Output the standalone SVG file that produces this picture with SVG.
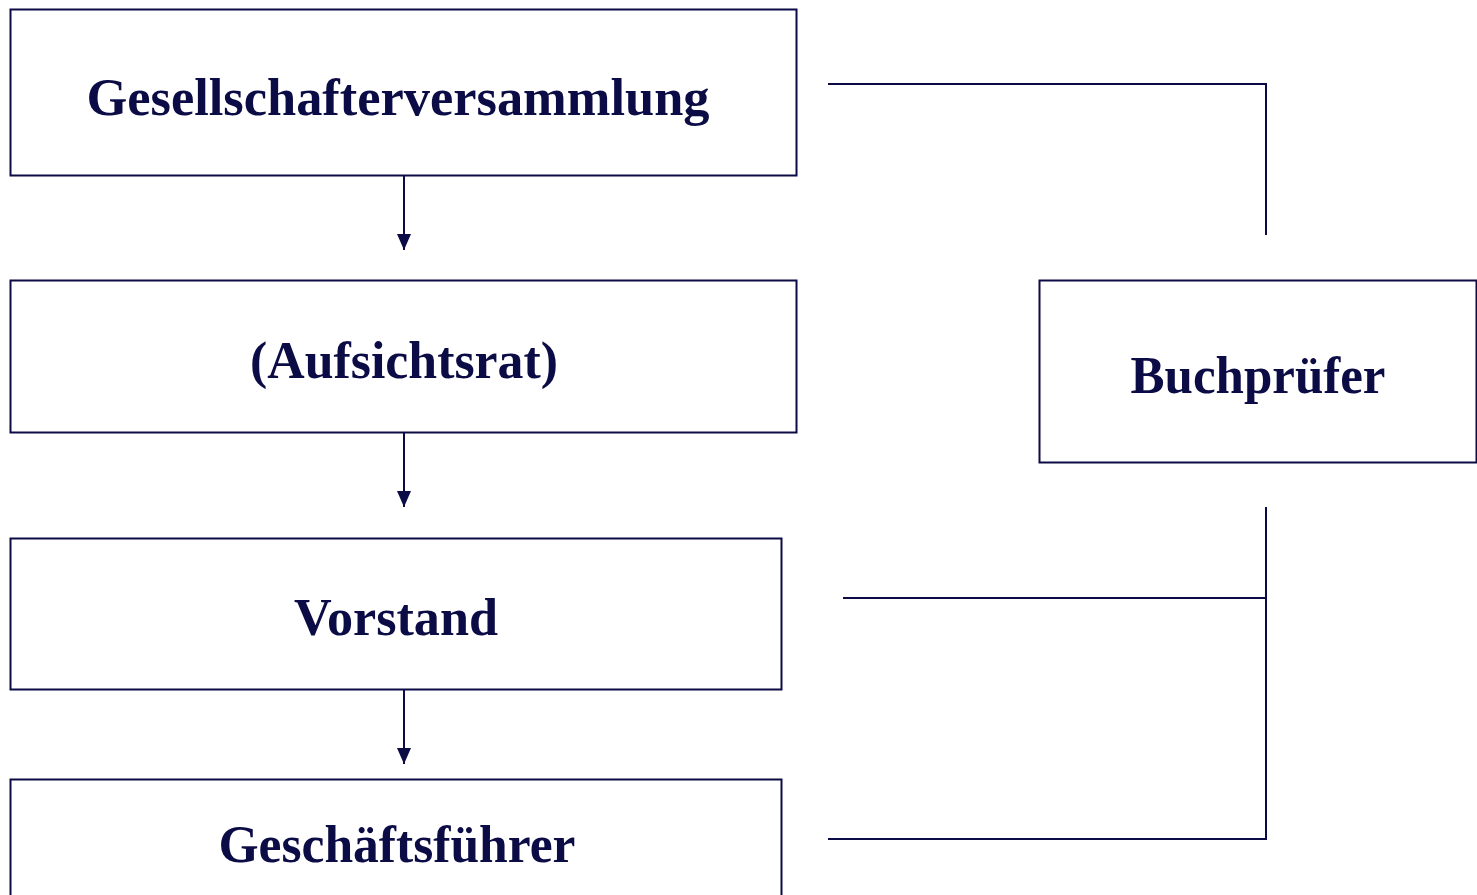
<svg xmlns="http://www.w3.org/2000/svg" width="1477" height="895" viewBox="0 0 1477 895">
<style>
.box{fill:#fff;stroke:#0b0b45;stroke-width:2}
.lbl{font-family:"Liberation Serif","Times New Roman",serif;font-weight:bold;font-size:52px;fill:#0b0b45;text-anchor:middle}
.con{fill:none;stroke:#0b0b45;stroke-width:2}
</style>
<defs>
<marker id="ah" markerWidth="16" markerHeight="14" refX="16" refY="7" orient="auto" markerUnits="userSpaceOnUse">
<path d="M0,0 L16,7 L0,14 Z" fill="#0b0b45"/>
</marker>
</defs>
<rect width="1477" height="895" fill="#fff"/>
<g id="n1"><rect class="box" x="10.5" y="9.5" width="786" height="166"/><text class="lbl" x="398" y="115" textLength="623" lengthAdjust="spacingAndGlyphs">Gesellschafterversammlung</text></g>
<g id="n2"><rect class="box" x="10.5" y="280.5" width="786" height="152"/><text class="lbl" x="404" y="378" textLength="308" lengthAdjust="spacingAndGlyphs">(Aufsichtsrat)</text></g>
<g id="n3"><rect class="box" x="10.5" y="538.5" width="771" height="151"/><text class="lbl" x="396" y="635" textLength="204" lengthAdjust="spacingAndGlyphs">Vorstand</text></g>
<g id="n4"><rect class="box" x="10.5" y="779.5" width="771" height="130"/><text class="lbl" x="397" y="862" textLength="357" lengthAdjust="spacingAndGlyphs">Geschäftsführer</text></g>
<g id="n5"><rect class="box" x="1039.5" y="280.5" width="437" height="182"/><text class="lbl" x="1258" y="393" textLength="255" lengthAdjust="spacingAndGlyphs">Buchprüfer</text></g>
<g id="connectors">
<line class="con" x1="404" y1="176" x2="404" y2="250" marker-end="url(#ah)"/>
<line class="con" x1="404" y1="433" x2="404" y2="507" marker-end="url(#ah)"/>
<line class="con" x1="404" y1="690" x2="404" y2="764" marker-end="url(#ah)"/>
<polyline class="con" points="828,84 1266,84 1266,235"/>
<polyline class="con" points="1266,507 1266,839 828,839"/>
<line class="con" x1="843" y1="598" x2="1266" y2="598"/>
</g>
</svg>
